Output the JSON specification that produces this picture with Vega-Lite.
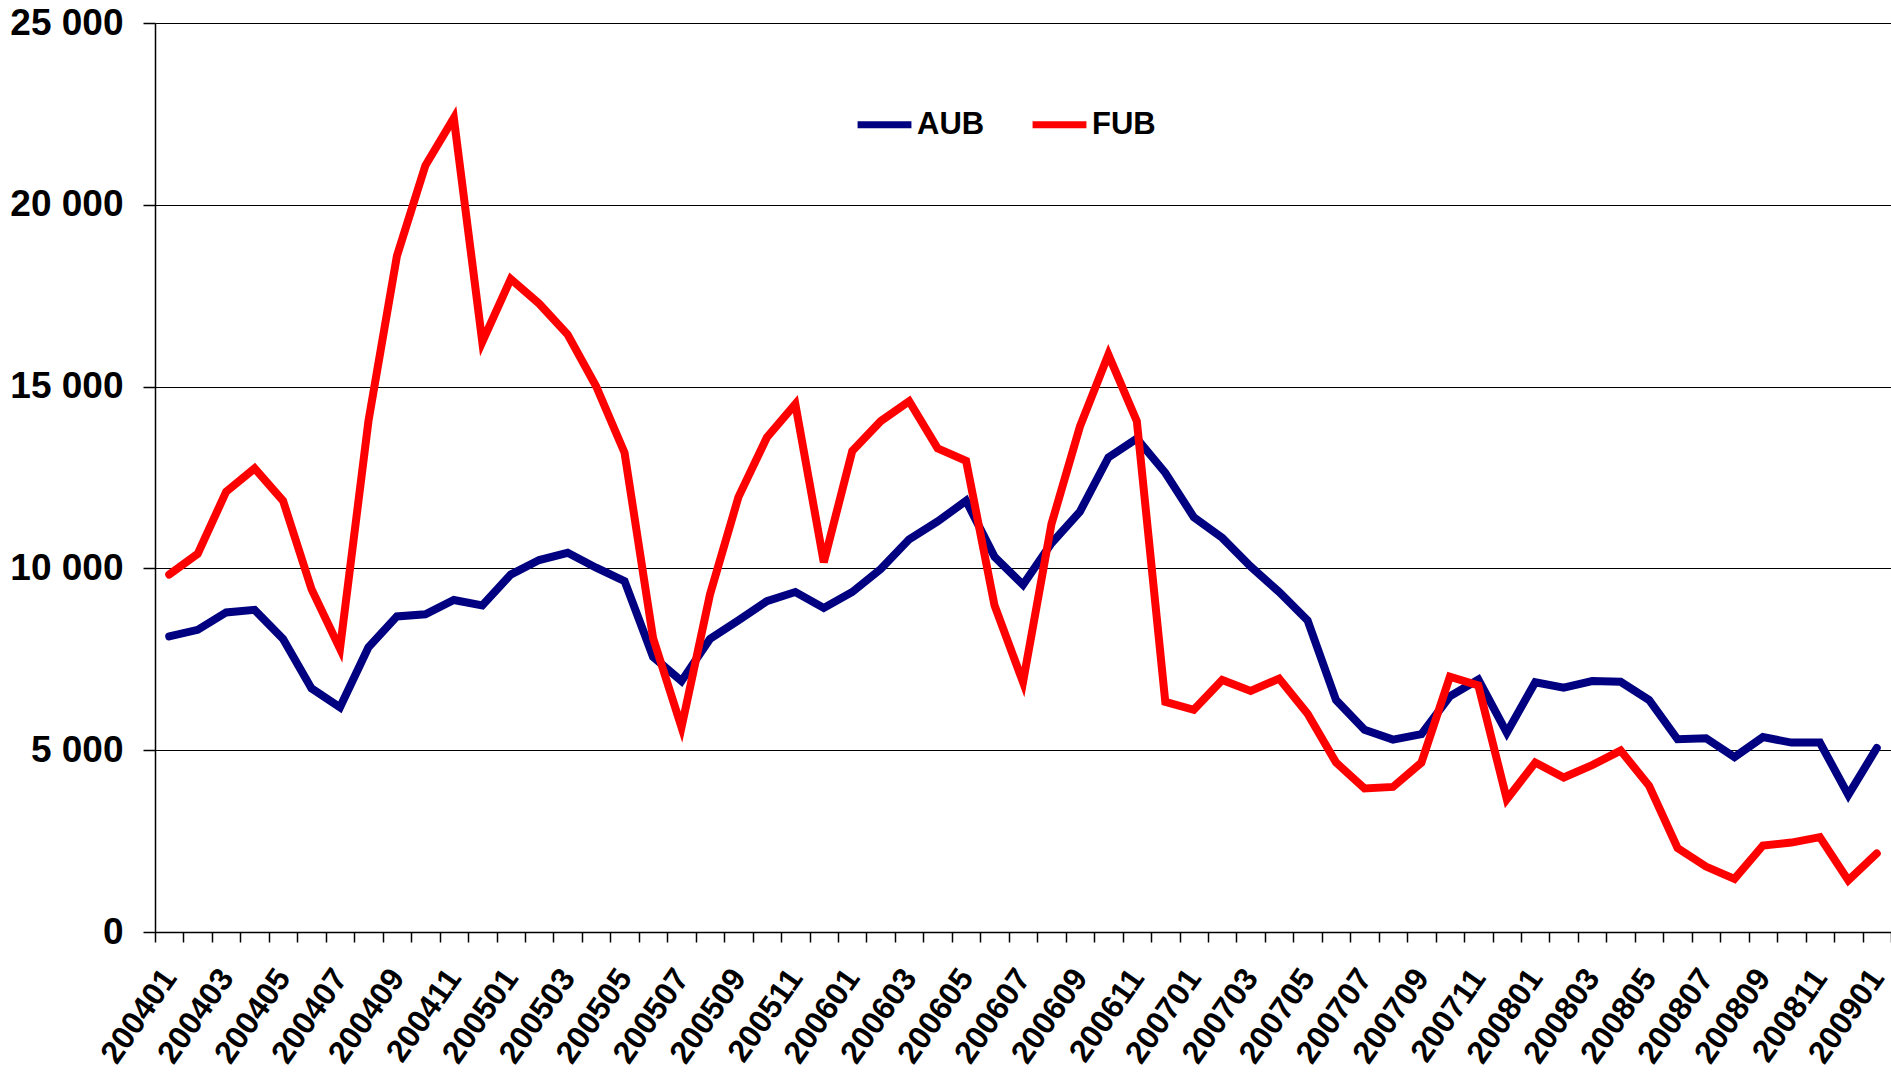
{
  "$schema": "https://vega.github.io/schema/vega-lite/v6.json",
  "width": 1736,
  "height": 909,
  "autosize": {"type": "none"},
  "padding": {"left": 155, "top": 23, "right": 0, "bottom": 142},
  "background": "white",
  "config": {"view": {"stroke": null}, "font": "Liberation Sans"},
  "data": {"values": [
    {"month":"200401","series":"AUB","value":8130},{"month":"200402","series":"AUB","value":8310},{"month":"200403","series":"AUB","value":8790},{"month":"200404","series":"AUB","value":8860},{"month":"200405","series":"AUB","value":8060},{"month":"200406","series":"AUB","value":6700},{"month":"200407","series":"AUB","value":6180},{"month":"200408","series":"AUB","value":7830},{"month":"200409","series":"AUB","value":8680},{"month":"200410","series":"AUB","value":8740},{"month":"200411","series":"AUB","value":9130},{"month":"200412","series":"AUB","value":8980},
    {"month":"200501","series":"AUB","value":9830},{"month":"200502","series":"AUB","value":10230},{"month":"200503","series":"AUB","value":10430},{"month":"200504","series":"AUB","value":10020},{"month":"200505","series":"AUB","value":9650},{"month":"200506","series":"AUB","value":7570},{"month":"200507","series":"AUB","value":6900},{"month":"200508","series":"AUB","value":8060},{"month":"200509","series":"AUB","value":8570},{"month":"200510","series":"AUB","value":9100},{"month":"200511","series":"AUB","value":9350},{"month":"200512","series":"AUB","value":8910},
    {"month":"200601","series":"AUB","value":9350},{"month":"200602","series":"AUB","value":9980},{"month":"200603","series":"AUB","value":10800},{"month":"200604","series":"AUB","value":11290},{"month":"200605","series":"AUB","value":11860},{"month":"200606","series":"AUB","value":10320},{"month":"200607","series":"AUB","value":9550},{"month":"200608","series":"AUB","value":10690},{"month":"200609","series":"AUB","value":11560},{"month":"200610","series":"AUB","value":13050},{"month":"200611","series":"AUB","value":13570},{"month":"200612","series":"AUB","value":12630},
    {"month":"200701","series":"AUB","value":11410},{"month":"200702","series":"AUB","value":10840},{"month":"200703","series":"AUB","value":10050},{"month":"200704","series":"AUB","value":9350},{"month":"200705","series":"AUB","value":8570},{"month":"200706","series":"AUB","value":6380},{"month":"200707","series":"AUB","value":5560},{"month":"200708","series":"AUB","value":5290},{"month":"200709","series":"AUB","value":5440},{"month":"200710","series":"AUB","value":6480},{"month":"200711","series":"AUB","value":6940},{"month":"200712","series":"AUB","value":5480},
    {"month":"200801","series":"AUB","value":6870},{"month":"200802","series":"AUB","value":6720},{"month":"200803","series":"AUB","value":6900},{"month":"200804","series":"AUB","value":6880},{"month":"200805","series":"AUB","value":6380},{"month":"200806","series":"AUB","value":5300},{"month":"200807","series":"AUB","value":5330},{"month":"200808","series":"AUB","value":4810},{"month":"200809","series":"AUB","value":5360},{"month":"200810","series":"AUB","value":5210},{"month":"200811","series":"AUB","value":5210},{"month":"200812","series":"AUB","value":3770},
    {"month":"200901","series":"AUB","value":5060},
    {"month":"200401","series":"FUB","value":9830},{"month":"200402","series":"FUB","value":10400},{"month":"200403","series":"FUB","value":12110},{"month":"200404","series":"FUB","value":12750},{"month":"200405","series":"FUB","value":11860},{"month":"200406","series":"FUB","value":9430},{"month":"200407","series":"FUB","value":7790},{"month":"200408","series":"FUB","value":14050},{"month":"200409","series":"FUB","value":18590},{"month":"200410","series":"FUB","value":21080},{"month":"200411","series":"FUB","value":22390},{"month":"200412","series":"FUB","value":16230},
    {"month":"200501","series":"FUB","value":17960},{"month":"200502","series":"FUB","value":17280},{"month":"200503","series":"FUB","value":16430},{"month":"200504","series":"FUB","value":15010},{"month":"200505","series":"FUB","value":13180},{"month":"200506","series":"FUB","value":8090},{"month":"200507","series":"FUB","value":5630},{"month":"200508","series":"FUB","value":9280},{"month":"200509","series":"FUB","value":11960},{"month":"200510","series":"FUB","value":13600},{"month":"200511","series":"FUB","value":14520},{"month":"200512","series":"FUB","value":10170},
    {"month":"200601","series":"FUB","value":13230},{"month":"200602","series":"FUB","value":14050},{"month":"200603","series":"FUB","value":14600},{"month":"200604","series":"FUB","value":13300},{"month":"200605","series":"FUB","value":12960},{"month":"200606","series":"FUB","value":8980},{"month":"200607","series":"FUB","value":6870},{"month":"200608","series":"FUB","value":11220},{"month":"200609","series":"FUB","value":13900},{"month":"200610","series":"FUB","value":15880},{"month":"200611","series":"FUB","value":14050},{"month":"200612","series":"FUB","value":6330},
    {"month":"200701","series":"FUB","value":6110},{"month":"200702","series":"FUB","value":6930},{"month":"200703","series":"FUB","value":6630},{"month":"200704","series":"FUB","value":6970},{"month":"200705","series":"FUB","value":6000},{"month":"200706","series":"FUB","value":4660},{"month":"200707","series":"FUB","value":3950},{"month":"200708","series":"FUB","value":3990},{"month":"200709","series":"FUB","value":4660},{"month":"200710","series":"FUB","value":7020},{"month":"200711","series":"FUB","value":6780},{"month":"200712","series":"FUB","value":3650},
    {"month":"200801","series":"FUB","value":4660},{"month":"200802","series":"FUB","value":4250},{"month":"200803","series":"FUB","value":4590},{"month":"200804","series":"FUB","value":4990},{"month":"200805","series":"FUB","value":4020},{"month":"200806","series":"FUB","value":2310},{"month":"200807","series":"FUB","value":1800},{"month":"200808","series":"FUB","value":1460},{"month":"200809","series":"FUB","value":2380},{"month":"200810","series":"FUB","value":2460},{"month":"200811","series":"FUB","value":2610},{"month":"200812","series":"FUB","value":1420},
    {"month":"200901","series":"FUB","value":2160}
  ]},
  "mark": {"type": "line", "strokeWidth": 8, "strokeCap": "round"},
  "encoding": {
    "x": {
      "field": "month", "type": "ordinal",
      "scale": {"type": "band", "paddingInner": 0, "paddingOuter": 0},
      "axis": {
        "title": null, "tickBand": "extent", "grid": false,
        "domainColor": "black", "domainWidth": 1.5,
        "tickColor": "black", "tickSize": 10, "tickWidth": 1.5,
        "labelAngle": -55, "labelAlign": "right", "labelBaseline": "middle",
        "labelFont": "Liberation Sans", "labelFontWeight": "bold", "labelFontSize": 32,
        "labelColor": "black", "labelPadding": 30, "labelOverlap": false,
        "labelExpr": "toNumber(substring(datum.value,4,6)) % 2 == 1 ? datum.value : ''"
      }
    },
    "y": {
      "field": "value", "type": "quantitative",
      "scale": {"domain": [0, 25000], "nice": false},
      "axis": {
        "title": null, "values": [0, 5000, 10000, 15000, 20000, 25000],
        "grid": true, "gridColor": "black", "gridWidth": 1, "gridOpacity": 1,
        "domainColor": "black", "domainWidth": 1.5,
        "tickColor": "black", "tickSize": 12, "tickWidth": 1.5,
        "labelFont": "Liberation Sans", "labelFontWeight": "bold", "labelFontSize": 37,
        "labelColor": "black", "labelPadding": 20,
        "labelExpr": "replace(format(datum.value, ','), ',', ' ')"
      }
    },
    "color": {
      "field": "series", "type": "nominal",
      "scale": {"domain": ["AUB", "FUB"], "range": ["#000080", "#FF0000"]},
      "legend": {
        "title": null, "orient": "none", "legendX": 699, "legendY": 71,
        "direction": "horizontal", "symbolType": "stroke", "symbolSize": 2900,
        "symbolStrokeWidth": 7, "labelFont": "Liberation Sans", "labelFontSize": 31,
        "labelFontWeight": "bold", "labelColor": "black", "labelOffset": 2,
        "columnPadding": 33, "padding": 0
      }
    }
  }
}
